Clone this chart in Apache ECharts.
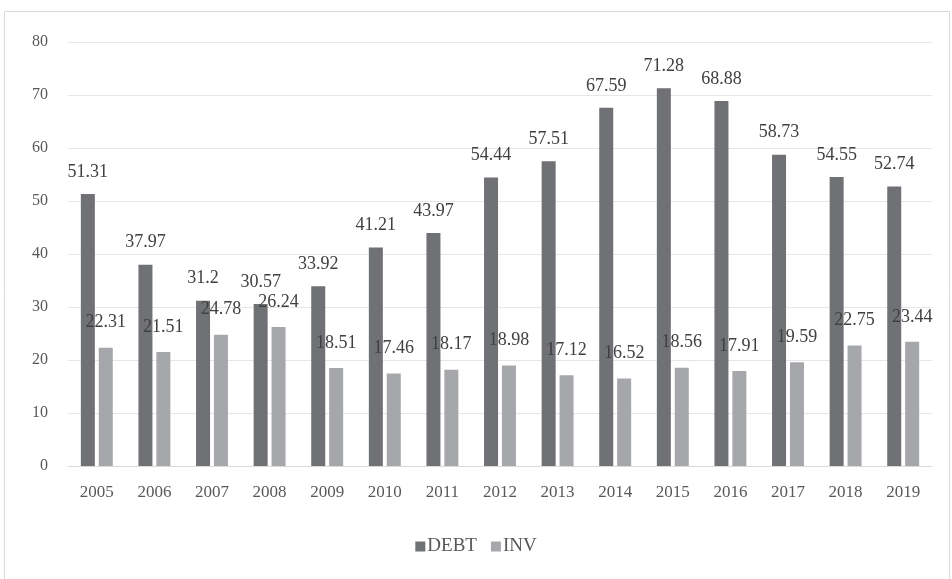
<!DOCTYPE html>
<html>
<head>
<meta charset="utf-8">
<script src="https://cdn.jsdelivr.net/npm/echarts@6/dist/echarts.min.js"></script>
<style>
  html, body { margin: 0; padding: 0; background: #fff; }
  #chart { width: 952px; height: 579px; }
</style>
</head>
<body>
<div id="chart"></div>
<script>
const years = ['2005', '2006', '2007', '2008', '2009', '2010', '2011', '2012', '2013', '2014', '2015', '2016', '2017', '2018', '2019'];
const debt = [51.31, 37.97, 31.2, 30.57, 33.92, 41.21, 43.97, 54.44, 57.51, 67.59, 71.28, 68.88, 58.73, 54.55, 52.74];
const inv = [22.31, 21.51, 24.78, 26.24, 18.51, 17.46, 18.17, 18.98, 17.12, 16.52, 18.56, 17.91, 19.59, 22.75, 23.44];

const serif = '"Liberation Serif", "DejaVu Serif", serif';

let myChart = echarts.init(document.getElementById('chart'));

// 数据标签样式
const labelStyle = {
  show: true,
  position: 'top',
  distance: 13,
  color: '#404040',
  fontFamily: serif,
  fontSize: 18
};

myChart.setOption({
  animation: false,
  backgroundColor: '#fff',
  graphic: [{
    type: 'rect',
    shape: { x: 4.5, y: 11.5, width: 945, height: 575 },
    style: { fill: 'none', stroke: '#d9d9d9', lineWidth: 1 },
    silent: true
  }],
  grid: {
    left: 68,
    right: 20,
    top: 42,
    bottom: 113
  },
  legend: {
    bottom: 18,
    left: 'center',
    itemWidth: 10,
    itemHeight: 10,
    itemGap: 14,
    icon: 'rect',
    textStyle: {
      color: '#595959',
      fontFamily: serif,
      fontSize: 19,
      padding: [0, 0, 0, -3]
    },
    data: ['DEBT', 'INV']
  },
  xAxis: {
    type: 'category',
    data: years,
    axisLine: { lineStyle: { color: '#d9d9d9', width: 1 } },
    axisTick: { show: false },
    axisLabel: {
      color: '#595959',
      fontFamily: serif,
      fontSize: 17,
      margin: 18
    }
  },
  yAxis: {
    type: 'value',
    min: 0,
    max: 80,
    interval: 10,
    axisLine: { show: false },
    axisTick: { show: false },
    splitLine: { lineStyle: { color: '#e6e6e6', width: 1 } },
    axisLabel: {
      color: '#595959',
      fontFamily: serif,
      fontSize: 16,
      margin: 20
    }
  },
  series: [
    {
      name: 'DEBT',
      type: 'bar',
      data: debt,
      barWidth: 14,
      barGap: '28%',
      itemStyle: { color: '#707175' },
      label: labelStyle
    },
    {
      name: 'INV',
      type: 'bar',
      data: inv,
      barWidth: 14,
      itemStyle: { color: '#a6a7aa' },
      label: Object.assign({}, labelStyle, { distance: 16 })
    }
  ]
});

window.addEventListener('resize', () => {
  myChart.resize();
});
</script>
</body>
</html>
